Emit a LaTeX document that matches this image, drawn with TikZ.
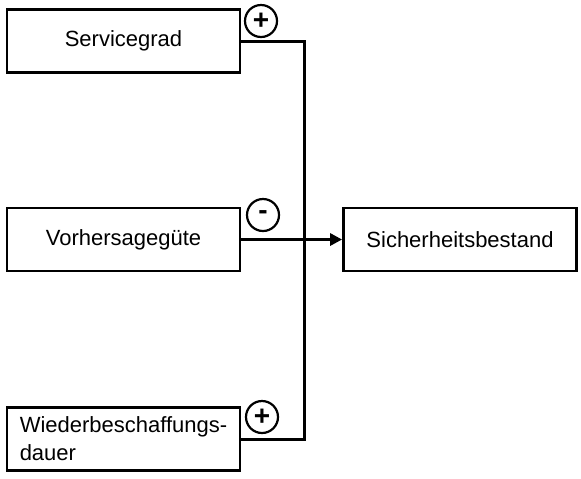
\documentclass[tikz,border=0pt]{standalone}
\usepackage{fontspec}
\setmainfont{Liberation Sans}
\usetikzlibrary{positioning, calc, arrows.meta}

\begin{document}
\begin{tikzpicture}[
		x=0.5pt, y=-0.5pt,
		font=\fontsize{11}{14}\selectfont,
		>={Triangle[length=6pt, width=6pt]},
		block/.style={draw, line width=1.4pt, minimum width=116.5pt, minimum height=31.5pt, inner sep=0pt},
		sign/.style={draw, circle, line width=1.1pt, minimum size=16pt, inner sep=0pt, font=\fontsize{14}{14}\selectfont\bfseries},
		link/.style={line width=1.5pt}
	]
		\useasboundingbox (0, 0) rectangle (581, 478);
		\node[block] (SG) at (123.5, 41) {Servicegrad};
		\node[block] (VG) at (123.5, 239.5) {Vorhersageg\"ute};
		\node[block] (SB) at (460, 239.5) {Sicherheitsbestand};
		\node[block, align=left] (WD) at (123.5, 439) {Wiederbeschaffungs-\\dauer};
		
		\node[sign] (plusSG) at (261, 21) {+};
		\node[sign] (minusVG) at (263, 215) {-};
		\node[sign] (plusWD) at (262, 417) {+};
		
		\coordinate (bus) at (304, 239.5);
		\draw[link] (SG.east) -| (bus) |- (WD.east);
		\draw[link, ->] (VG.east) -- (SB.west);
	\end{tikzpicture}
\end{document}
